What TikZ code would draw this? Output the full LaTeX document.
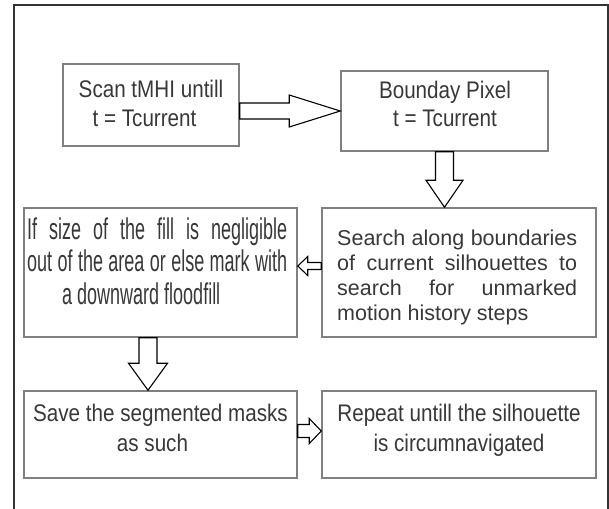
\documentclass[tikz,border=0pt]{standalone}
\usepackage{fontspec}
\setmainfont{Liberation Sans}
\newfontfamily\wideface{Liberation Sans}
\newfontfamily\boxface{Liberation Sans}[FakeStretch=0.86]
\newfontfamily\narrowface{Liberation Sans}[FakeStretch=0.6]
\usetikzlibrary{calc}

\tikzstyle{cbox}   = [draw=black!50, line width=1.5pt, inner sep=0pt]
\tikzstyle{ctext}  = [text=black!78, inner sep=0pt, anchor=base]
\tikzstyle{barrow} = [draw=black, line width=1.1pt, fill=white]
\def\harrow#1#2#3#4#5{
  \draw[barrow] ($(#1)+(0,#3)$) -- ($(#2)!#5!(#1)+(0,#3)$) -- ($(#2)!#5!(#1)+(0,#4)$) -- (#2)
    -- ($(#2)!#5!(#1)+(0,-#4)$) -- ($(#2)!#5!(#1)+(0,-#3)$) -- ($(#1)+(0,-#3)$) -- cycle;
}
\def\varrow#1#2#3#4#5{
  \draw[barrow] ($(#1)+(#3,0)$) -- ($(#2)!#5!(#1)+(#3,0)$) -- ($(#2)!#5!(#1)+(#4,0)$) -- (#2)
    -- ($(#2)!#5!(#1)+(-#4,0)$) -- ($(#2)!#5!(#1)+(-#3,0)$) -- ($(#1)+(-#3,0)$) -- cycle;
}

\begin{document}
\begin{tikzpicture}[x=1pt, y=-1pt]
    \clip (0,0) rectangle (609,508);
    \draw[black!80, line width=1.5pt] (14,5) rectangle (608,530);

    \node[cbox, minimum width=176, minimum height=82]  (scan)   at (151,105)   {};
    \node[cbox, minimum width=207, minimum height=80]  (pix)    at (444.5,111) {};
    \node[cbox, minimum width=274, minimum height=129] (search) at (459,272.5) {};
    \node[cbox, minimum width=273, minimum height=129] (fill)   at (160.5,272.5) {};
    \node[cbox, minimum width=273, minimum height=87]  (save)   at (160.5,434.5) {};
    \node[cbox, minimum width=274, minimum height=87]  (again)  at (459,434.5) {};

    \node[ctext] (scant) at (151,97.3) {\parbox[t]{170pt}{\boxface\fontsize{24}{28.7}\selectfont\centering
      Scan tMHI untill\\ t = Tcurrent\hspace*{13pt}}};
    \node[ctext] (pixt) at (445,98.3) {\parbox[t]{200pt}{\boxface\fontsize{24}{28.4}\selectfont\centering
      Bounday Pixel\\ t = Tcurrent}};
    \node[ctext, anchor=base west] (searcht) at (337,245) {\parbox[t]{240pt}{\wideface\fontsize{21.5}{25}\selectfont
      \makebox[240pt][s]{Search along boundaries}\\
      \makebox[240pt][s]{of current silhouettes to}\\
      \makebox[240pt][s]{search for unmarked}\\
      motion history steps}};
    \node[ctext, anchor=base west] (fillt) at (27,239.3) {\parbox[t]{260pt}{\narrowface\fontsize{30}{32.5}\selectfont
      \makebox[260pt][s]{If size of the fill is negligible}\\
      \makebox[260pt][s]{out of the area or else mark with}\\
      \hspace*{35pt}a downward floodfill}};
    \node[ctext] (savet) at (160.5,421) {\parbox[t]{266pt}{\boxface\fontsize{24}{30}\selectfont\centering
      Save the segmented masks\\ as such\hspace*{16pt}}};
    \node[ctext] (againt) at (459,421) {\parbox[t]{266pt}{\boxface\fontsize{24}{30}\selectfont\centering
      Repeat untill the silhouette\\ is circumnavigated}};

    % block arrows
    \coordinate (a3) at ([yshift=6.5pt]search.west);
    \coordinate (a4) at ([xshift=-12.5pt]fill.south);
    \coordinate (a5) at ([yshift=3.5pt]save.east);
    \harrow{scan.east |- pix.west}{pix.west}{8}{16}{51pt}
    \varrow{pix.south}{pix.south |- search.north}{9}{18.5}{27pt}
    \harrow{a3}{a3 -| fill.east}{3.5}{9.5}{10pt}
    \varrow{a4}{a4 |- save.north}{9}{19.5}{27pt}
    \harrow{a5}{a5 -| again.west}{6.5}{12.5}{12pt}
\end{tikzpicture}
\end{document}
